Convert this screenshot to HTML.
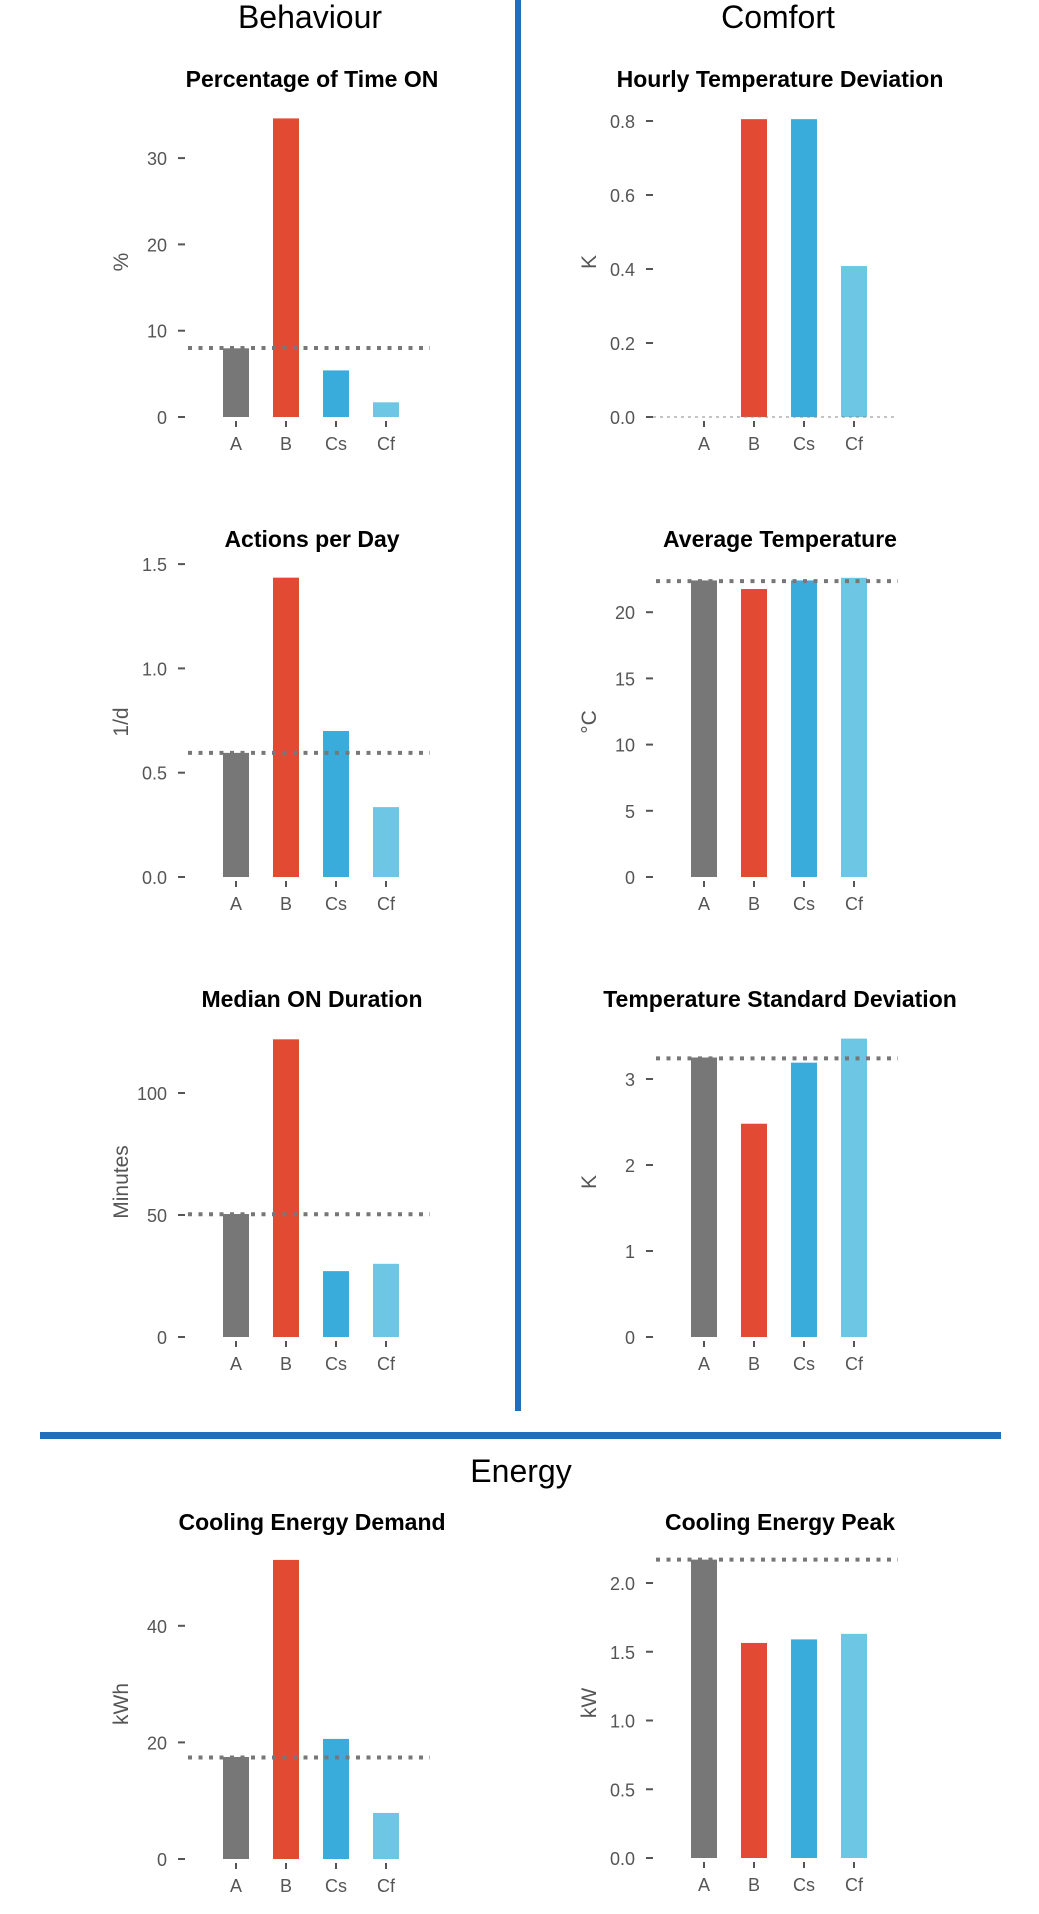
<!DOCTYPE html>
<html><head><meta charset="utf-8"><style>
html,body{margin:0;padding:0;background:#fff;}
svg{display:block;font-family:"Liberation Sans",Arial,sans-serif;}
</style></head><body>
<svg id="fig" width="1039" height="1914" viewBox="0 0 1039 1914" xmlns="http://www.w3.org/2000/svg">
<rect x="0" y="0" width="1039" height="1914" fill="#fff"/>
<rect x="515" y="0" width="6" height="1411" fill="#1f6fbf"/>
<rect x="40" y="1432" width="961" height="7" fill="#1f6fbf"/>
<text x="310" y="28" font-size="32" text-anchor="middle" fill="#000">Behaviour</text>
<text x="778" y="28" font-size="32" text-anchor="middle" fill="#000">Comfort</text>
<text x="521" y="1482" font-size="32" text-anchor="middle" fill="#000">Energy</text>
<g id="charts"></g>
</svg>
<script>
const categories = ["A","B","Cs","Cf"];
const colors = ["#777777","#E24A33","#3AACDB","#6DC6E3"];

const pctValues = [7.96, 34.6, 5.4, 1.7];
const pctTicks = [0, 10, 20, 30];
const pctRef = [8.0];

const hourlyValues = [0, 0.805, 0.805, 0.408];
const hourlyTicks = [0, 0.2, 0.4, 0.6, 0.8];
const hourlyRef = [0];

const actionsValues = [0.595, 1.435, 0.70, 0.335];
const actionsTicks = [0, 0.5, 1.0, 1.5];
const actionsRef = [0.595];

const avgTempValues = [22.4, 21.75, 22.4, 22.6];
const avgTempTicks = [0, 5, 10, 15, 20];
const avgTempRef = [22.35];

const medianValues = [50.4, 122, 27, 30];
const medianTicks = [0, 50, 100];
const medianRef = [50.3];

const sdValues = [3.25, 2.48, 3.19, 3.47];
const sdTicks = [0, 1, 2, 3];
const sdRef = [3.24];

const demandValues = [17.5, 51.3, 20.6, 7.9];
const demandTicks = [0, 20, 40];
const demandRef = [17.4];

const peakValues = [2.17, 1.564, 1.59, 1.63];
const peakTicks = [0, 0.5, 1.0, 1.5, 2.0];
const peakRef = [2.17];

const charts = [
 {id:"percentage-time-on", title:"Percentage of Time ON", ylabel:"%", values:pctValues, ticks:pctTicks, ref:pctRef, dec:0, col:0, zeroY:417, ppu:8.63, thin:false},
 {id:"hourly-temp-deviation", title:"Hourly Temperature Deviation", ylabel:"K", values:hourlyValues, ticks:hourlyTicks, ref:hourlyRef, dec:1, col:1, zeroY:417, ppu:370, thin:true},
 {id:"actions-per-day", title:"Actions per Day", ylabel:"1/d", values:actionsValues, ticks:actionsTicks, ref:actionsRef, dec:1, col:0, zeroY:877, ppu:208.6, thin:false},
 {id:"average-temperature", title:"Average Temperature", ylabel:"°C", values:avgTempValues, ticks:avgTempTicks, ref:avgTempRef, dec:0, col:1, zeroY:877, ppu:13.24, thin:false},
 {id:"median-on-duration", title:"Median ON Duration", ylabel:"Minutes", values:medianValues, ticks:medianTicks, ref:medianRef, dec:0, col:0, zeroY:1337, ppu:2.44, thin:false},
 {id:"temp-std-deviation", title:"Temperature Standard Deviation", ylabel:"K", values:sdValues, ticks:sdTicks, ref:sdRef, dec:0, col:1, zeroY:1337, ppu:86, thin:false},
 {id:"cooling-energy-demand", title:"Cooling Energy Demand", ylabel:"kWh", values:demandValues, ticks:demandTicks, ref:demandRef, dec:0, col:0, zeroY:1859, ppu:5.83, thin:false},
 {id:"cooling-energy-peak", title:"Cooling Energy Peak", ylabel:"kW", values:peakValues, ticks:peakTicks, ref:peakRef, dec:1, col:1, zeroY:1858, ppu:137.5, thin:false}
];
const titleOffsets = [330, 330, 330, 330, 330, 330, 329, 328];

const NS = "http://www.w3.org/2000/svg";
const root = document.getElementById("charts");
function mk(tag, attrs, parent){
  const e = document.createElementNS(NS, tag);
  for (const k in attrs) e.setAttribute(k, attrs[k]);
  parent.appendChild(e);
  return e;
}
charts.forEach((c, ci) => {
  const off = c.col * 468;
  const yScale = v => c.zeroY - v * c.ppu;
  const xCenter = i => 236 + off + 50 * i;
  const g = mk("g", {}, root);
  
  

  const t = mk("text", {x: 312 + off, y: c.zeroY - titleOffsets[ci], "font-size": 23, "font-weight": "bold", "text-anchor": "middle", fill: "#000"}, g);
  t.textContent = c.title;
  
  

  const yl = mk("text", {x: 0, y: 0, "font-size": 21, "text-anchor": "middle", fill: "#555", transform: "translate(" + (128 + off) + "," + (c.zeroY - 155) + ") rotate(-90)"}, g);
  yl.textContent = c.ylabel;
  
  

  c.ticks.forEach(v => {
    const y = yScale(v);
    const tm = mk("line", {x1: 178 + off, x2: 185 + off, y1: y, y2: y, stroke: "#555", "stroke-width": 2}, g);
    
    
    const tl = mk("text", {x: 167 + off, y: y + 7, "font-size": 18, "text-anchor": "end", fill: "#555"}, g);
    tl.textContent = v.toFixed(c.dec);
    
    
  });

  c.values.forEach((v, i) => {
    const top = yScale(v);
    if (v > 0) {
      const b = mk("rect", {x: xCenter(i) - 13, y: top, width: 26, height: c.zeroY - top, fill: colors[i]}, g);
      
      
    }
    const xm = mk("line", {x1: xCenter(i), x2: xCenter(i), y1: c.zeroY + 4, y2: c.zeroY + 10, stroke: "#555", "stroke-width": 2}, g);
    
    
    const xl = mk("text", {x: xCenter(i), y: c.zeroY + 33, "font-size": 18, "text-anchor": "middle", fill: "#555"}, g);
    xl.textContent = categories[i];
    
    
  });

  c.ref.forEach(r => {
    const y = yScale(r);
    const ln = c.thin
      ? mk("line", {x1: 653 + (c.col - 1) * 468, x2: 895 + (c.col - 1) * 468, y1: y, y2: y, stroke: "#888", "stroke-width": 1, "stroke-dasharray": "3 4"}, g)
      : mk("line", {x1: 188 + off, x2: 430 + off, y1: y, y2: y, stroke: "#777", "stroke-width": 4, "stroke-dasharray": "4 6.5"}, g);
    
    
  });
});
</script>
</body></html>
